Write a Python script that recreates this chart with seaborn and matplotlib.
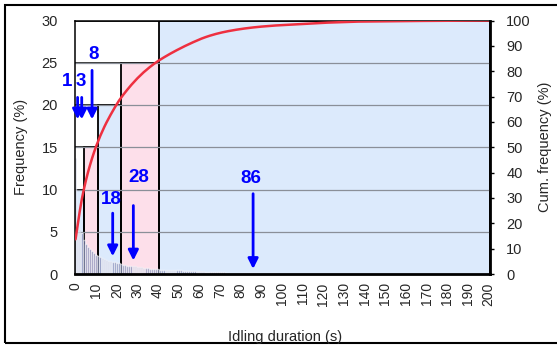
import numpy as np
import pandas as pd
import seaborn as sns
import matplotlib
matplotlib.use("Agg")
import matplotlib.pyplot as plt
from matplotlib.patches import Rectangle

# Frequency (%) of idling durations, one-second bins 0..200 s
freq = [
    13.7, 5.5, 5.3, 4.8, 4.0,
    3.5, 3.2, 2.9, 2.7, 2.5, 2.3,
    2.1, 2.0, 1.85, 1.75, 1.65, 1.55, 1.5, 1.45, 1.4, 1.35, 1.3,
    1.15, 1.1, 1.05, 1.0, 1.0, 0.95, 0.9, 0.9, 0.85, 0.8, 0.8, 0.75, 0.7, 0.7,
    0.65, 0.65, 0.6, 0.6, 0.55,
    0.52, 0.5, 0.49, 0.48, 0.47, 0.46, 0.45, 0.44, 0.43, 0.42, 0.42, 0.41, 0.40,
    0.39, 0.38, 0.38, 0.37, 0.36, 0.36, 0.35,
    0.33, 0.31, 0.29, 0.28, 0.26, 0.25, 0.24, 0.22, 0.21, 0.2, 0.19, 0.18, 0.17,
    0.16, 0.15, 0.15, 0.14, 0.13, 0.13, 0.12, 0.12, 0.11, 0.11, 0.1,
    0.1, 0.09, 0.09, 0.08, 0.08, 0.08, 0.07, 0.07, 0.07, 0.06, 0.06, 0.06, 0.06,
    0.05, 0.05, 0.05, 0.05, 0.04, 0.04, 0.04, 0.04, 0.04, 0.03, 0.03,
    0.05, 0.05, 0.05, 0.05, 0.05, 0.05, 0.05, 0.05, 0.05, 0.05, 0.05, 0.05,
    0.03, 0.03, 0.03, 0.03, 0.03, 0.03, 0.03, 0.03, 0.03, 0.03, 0.03, 0.03,
    0.03, 0.03, 0.03,
    0.01, 0.01, 0.01, 0.01, 0.01, 0.01, 0.01, 0.01, 0.01, 0.01, 0.01, 0.01,
    0.01, 0.01, 0.01, 0.01, 0.01, 0.01, 0.01, 0.01, 0.01, 0.01, 0.01, 0.01, 0.01,
    0.005, 0.005, 0.005, 0.005, 0.005, 0.005, 0.005, 0.005, 0.005, 0.005,
    0.005, 0.005, 0.005, 0.005, 0.005, 0.005, 0.005, 0.005, 0.005, 0.005,
    0.005, 0.005, 0.005, 0.005, 0.005, 0.005, 0.005, 0.005, 0.005, 0.005,
    0.005, 0.005, 0.005, 0.005, 0.005, 0.005, 0.005, 0.005, 0.005, 0.005,
]
durations = list(range(len(freq)))

# Duration classes: edges and staircase heights (left axis units)
class_edges = [-0.5, 4, 11, 22, 40.5, 200.5]
class_heights = [10, 15, 20, 25, 30]
class_colors = ["#DCEAFC", "#FDDFEA", "#DCEAFC", "#FDDFEA", "#DCEAFC"]

# Representative durations marked with arrows
marker_values = [1, 3, 8, 18, 28, 86]
marker_labels = ["1", "3", "8", "18", "28", "86"]
arrow_start = [20.9, 20.9, 24.1, 7.2, 8.1, 9.5]
arrow_tip = [18.3, 18.3, 18.3, 2.1, 1.6, 0.6]
label_x = [-4.3, 2.6, 8.9, 17.5, 30.8, 84.8]
label_y = [22.2, 22.2, 25.4, 8.25, 10.9, 10.8]

df = pd.DataFrame({"duration": durations, "freq": freq})
df["cum"] = df["freq"].cumsum() / df["freq"].sum() * 100

sns.set_theme(style="white")
plt.rcParams["font.family"] = ["Liberation Sans", "DejaVu Sans"]

fig = plt.figure(figsize=(5.57, 3.52), dpi=100)
pos = [74.5 / 557, 1 - 274 / 352, 415 / 557, 253.5 / 352]
XLIM, YLIM = (-0.5, 200.5), (0, 30)

# Background layer: class blocks (filled areas) and grid
axb = fig.add_axes(pos, zorder=0)
for i, h in enumerate(class_heights):
    left, right = class_edges[i], class_edges[i + 1]
    axb.fill_between([left, right], 0, h, color=class_colors[i], linewidth=0,
                     zorder=1)
    axb.plot([left, left, right, right], [0, h, h, 0], color="black",
             linewidth=1.3, zorder=1.3)
    # class top extended back to zero
    axb.plot([class_edges[0], left], [h, h], color="black", linewidth=1.1,
             zorder=1.3)
axb.set_xlim(*XLIM)
axb.set_ylim(*YLIM)
axb.set_yticks([5, 10, 15, 20, 25])
axb.set_xticks([])
axb.grid(axis="y", color="#8a8f98", linewidth=0.9)
axb.set_axisbelow(False)
axb.tick_params(left=False, labelleft=False)
for s in axb.spines.values():
    s.set_visible(False)

# Main layer: histogram of one-second bins
ax = fig.add_axes(pos, zorder=1)
ax.patch.set_visible(False)
sns.barplot(data=df, x="duration", y="freq", native_scale=True, width=0.8,
            color="#2a3a9a", alpha=0.6, ax=ax)

ax.set_xlim(*XLIM)
ax.set_ylim(*YLIM)
ax.set_xticks(range(0, 201, 10))
ax.set_xticklabels([str(v) for v in range(0, 201, 10)], rotation=90, fontsize=10)
ax.set_yticks(range(0, 31, 5))
ax.set_yticklabels([str(v) for v in range(0, 31, 5)], fontsize=10.5)
ax.tick_params(axis="y", length=0, pad=12)
ax.tick_params(axis="x", length=0, pad=6)
for s in ["left", "top"]:
    ax.spines[s].set_color("black")
    ax.spines[s].set_linewidth(1.1)
ax.spines["bottom"].set_color("black")
ax.spines["bottom"].set_linewidth(2.0)
ax.spines["right"].set_visible(False)
ax.grid(False)

ax.set_xlabel("Idling duration (s)", fontsize=10.5)
ax.set_ylabel("Frequency (%)", fontsize=10.5, va="center")
ax.xaxis.set_label_coords(0.507, -0.222)
ax.yaxis.set_label_coords(-0.129, 0.5)

# Arrows and labels for representative durations
for v, lab, y0, y1, tx, ty in zip(marker_values, marker_labels, arrow_start,
                                  arrow_tip, label_x, label_y):
    ax.annotate("", xy=(v, y1), xytext=(v, y0),
                arrowprops=dict(arrowstyle="-|>", color="#0000FF", lw=2.0,
                                mutation_scale=15, shrinkA=0, shrinkB=0))
    ax.text(tx, ty, lab, color="#0000FF", fontsize=13.5, fontweight="bold",
            ha="center", va="baseline")

# Cumulative frequency on the secondary axis
ax2 = ax.twinx()
sns.lineplot(data=df, x="duration", y="cum", color="#EE3040", linewidth=1.8,
             errorbar=None, ax=ax2)
ax2.set_ylim(0, 100)
ax2.set_xlim(*XLIM)
ax2.set_yticks(range(0, 101, 10))
ax2.set_yticklabels([str(v) for v in range(0, 101, 10)], fontsize=10.5)
ax2.tick_params(axis="y", direction="out", length=3, width=1, color="black",
                pad=9, right=True)
ax2.set_ylabel("Cum. frequency (%)", fontsize=10.5, va="center", rotation=90)
ax2.yaxis.set_label_coords(1.134, 0.5)
for s in ["left", "top", "bottom"]:
    ax2.spines[s].set_visible(False)
ax2.spines["right"].set_color("black")
ax2.spines["right"].set_linewidth(2.0)
ax2.grid(False)

# Outer chart frame
fig.add_artist(Rectangle((5 / 557, 9 / 352), 1.0, 338 / 352,
                         transform=fig.transFigure, fill=False,
                         edgecolor="black", linewidth=1.5))

fig.savefig("out.png", dpi=100)
